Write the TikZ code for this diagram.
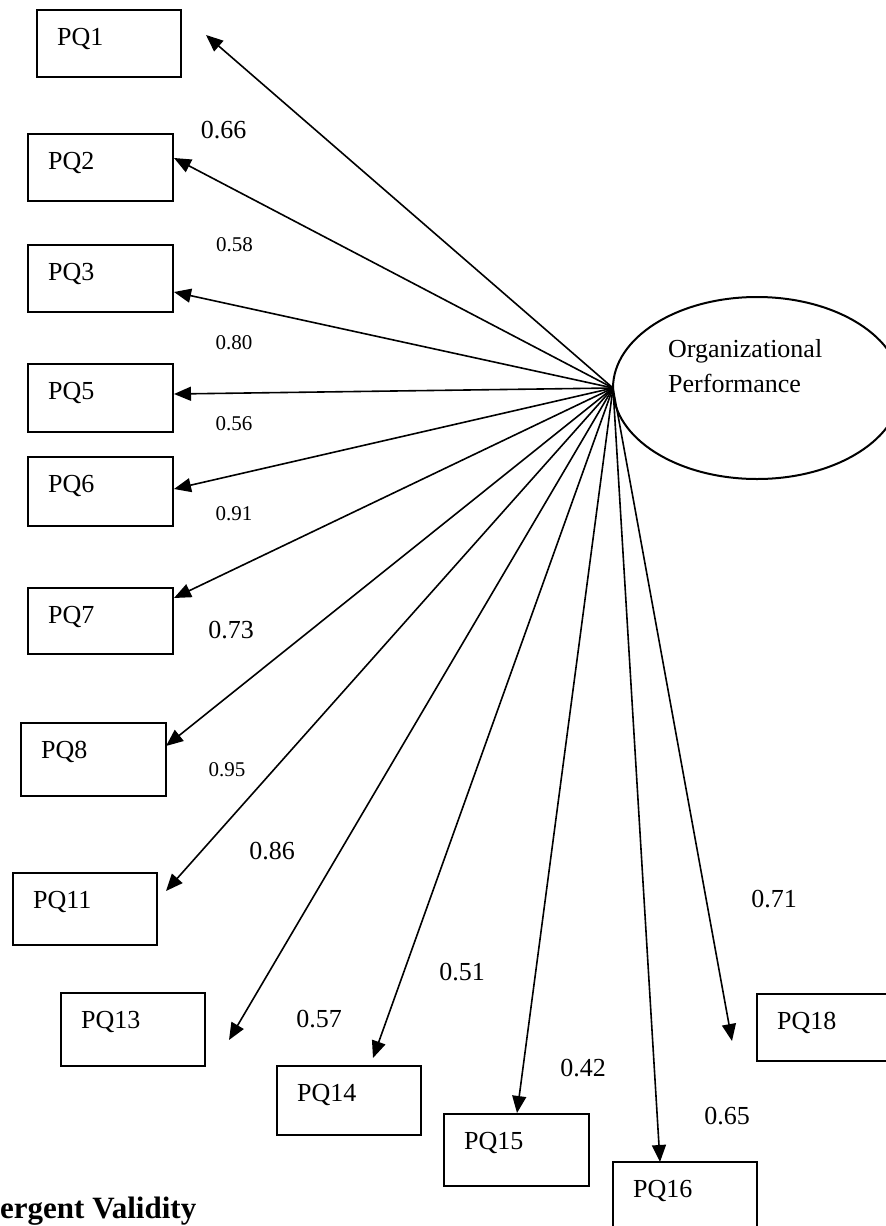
\documentclass[tikz,border=0pt]{standalone}
\usepackage{fontspec}
\setmainfont{Liberation Serif}
\usetikzlibrary{arrows.meta,shapes.geometric}

\tikzset{
  x=1pt, y=-1pt,
  itembox/.style={draw, line width=2pt},
  itemtext/.style={anchor=base west, inner sep=0pt, font=\fontsize{26}{31}\selectfont},
  bigload/.style={inner sep=0pt, font=\fontsize{26}{31}\selectfont},
  smallload/.style={inner sep=0pt, font=\fontsize{21}{25}\selectfont},
  loading/.style={line width=1.6pt, -{Triangle[length=17pt,width=14pt]}},
  latent/.style={draw, ellipse, line width=2pt, minimum width=288pt, minimum height=182pt, inner sep=0pt}
}

% item box: \itemrect{name}{left}{top}{right}{bottom}{label}
\newcommand{\itemrect}[6]{%
  \draw[itembox] (#2,#3) rectangle (#4,#5);
  \node[itemtext] (#1) at (#2+20,#3+35) {#6};
}

\begin{document}
\begin{tikzpicture}
\useasboundingbox (0,0) rectangle (886,1226);

% latent construct
\node[latent] (op) at (757,388) {};
\node[itemtext] (opa) at (668,357) {Organizational};
\node[itemtext] (opb) at (668,392) {Performance};
\coordinate (c) at (613,388);

% indicator boxes
\itemrect{pq1}{37}{10}{181}{77}{PQ1}
\itemrect{pq2}{28}{134}{173}{201}{PQ2}
\itemrect{pq3}{28}{245}{173}{312}{PQ3}
\itemrect{pq5}{28}{364}{173}{432}{PQ5}
\itemrect{pq6}{28}{457}{173}{526}{PQ6}
\itemrect{pq7}{28}{588}{173}{654}{PQ7}
\itemrect{pq8}{21}{723}{166}{796}{PQ8}
\itemrect{pq11}{13}{873}{157}{945}{PQ11}
\itemrect{pq13}{61}{993}{205}{1066}{PQ13}
\itemrect{pq14}{277}{1066}{421}{1135}{PQ14}
\itemrect{pq15}{444}{1114}{589}{1186}{PQ15}
\itemrect{pq16}{613}{1162}{757}{1240}{PQ16}
\itemrect{pq18}{757}{994}{902}{1061}{PQ18}

% arrow end points
\coordinate (t1) at (206,35);
\coordinate (t2) at (174,158);
\coordinate (t3) at (174,292);
\coordinate (t5) at (174,394);
\coordinate (t6) at (174,489);
\coordinate (t7) at (174,598);
\coordinate (t8) at (166,746);
\coordinate (t11) at (166,891);
\coordinate (t13) at (229,1040);
\coordinate (t14) at (373,1058);
\coordinate (t15) at (517,1113);
\coordinate (t16) at (660,1162);
\coordinate (t18) at (732,1041);

\foreach \t in {t1,t2,t3,t5,t6,t7,t8,t11,t13,t14,t15,t16,t18}
  \draw[loading] (c) -- (\t);

% loadings
\node[bigload] (l1) at (223.5,130) {0.66};
\node[smallload] (l2) at (234.5,245) {0.58};
\node[smallload] (l3) at (234,343) {0.80};
\node[smallload] (l5) at (234,424) {0.56};
\node[smallload] (l6) at (234,514) {0.91};
\node[bigload] (l7) at (231,630) {0.73};
\node[smallload] (l8) at (227,770) {0.95};
\node[bigload] (l11) at (272,851) {0.86};
\node[bigload] (l18) at (774,899) {0.71};
\node[bigload] (l14) at (462,972) {0.51};
\node[bigload] (l13) at (319,1019) {0.57};
\node[bigload] (l15) at (583,1068) {0.42};
\node[bigload] (l16) at (727,1116) {0.65};

% section heading
\node[anchor=base west, inner sep=0pt, font=\fontsize{31}{37}\selectfont\bfseries] (head) at (0,1218) {ergent Validity};
\end{tikzpicture}
\end{document}
